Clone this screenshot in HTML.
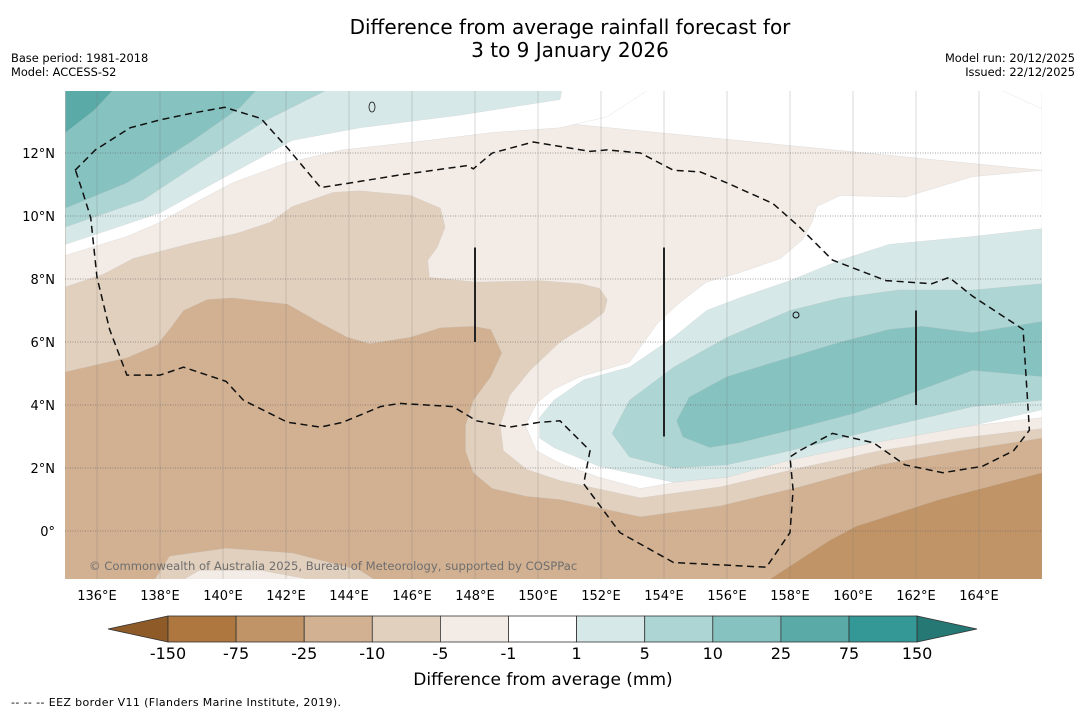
<!DOCTYPE html>
<html><head><meta charset="utf-8">
<style>
html,body{margin:0;padding:0;background:#fff;}
body{width:1085px;height:713px;overflow:hidden;font-family:"DejaVu Sans","Liberation Sans",sans-serif;}
svg text{font-family:"DejaVu Sans","Liberation Sans",sans-serif;}
</style></head>
<body>
<svg id="chart" width="1085" height="713" viewBox="0 0 1085 713" xmlns="http://www.w3.org/2000/svg">
<defs><clipPath id="mapclip"><rect x="65" y="91" width="977" height="488"/></clipPath></defs>
<text x="570" y="34" font-size="20" text-anchor="middle">Difference from average rainfall forecast for</text>
<text x="570" y="57" font-size="20" text-anchor="middle">3 to 9 January 2026</text>
<text x="11" y="62" font-size="11.4">Base period: 1981-2018</text>
<text x="11" y="76" font-size="11.4">Model: ACCESS-S2</text>
<text x="1075" y="62" font-size="11.4" text-anchor="end">Model run: 20/12/2025</text>
<text x="1075" y="76" font-size="11.4" text-anchor="end">Issued: 22/12/2025</text>
<g id="map" clip-path="url(#mapclip)"></g>
<g id="grid"></g>
<g id="overlay" clip-path="url(#mapclip)"></g>
<text x="89" y="570" font-size="11.6" fill="#6e6e6e">© Commonwealth of Australia 2025, Bureau of Meteorology, supported by COSPPac</text>
<g id="colorbar"></g>
<text x="543" y="685" font-size="17" text-anchor="middle">Difference from average (mm)</text>
<text x="11" y="706" font-size="11" textLength="330">--  --  -- EEZ border V11 (Flanders Marine Institute, 2019).</text>
</svg>
<script>
const lonTicks=[136,138,140,142,144,146,148,150,152,154,156,158,160,162,164];
const latTicks=[0,2,4,6,8,10,12];
const levelLabels=["-150","-75","-25","-10","-5","-1","1","5","10","25","75","150"];
const levelColors=["#ad773f","#c09467","#d2b192","#e2d0be","#f3ece6","#ffffff","#d6e9e8","#acd5d4","#86c2c0","#5aaaa8","#339896"];
const bgColor="#d2b192";
const contourM10=[[135,5.05],[136.95,5.5],[137.9,5.9],[138.3,6.4],[138.75,7.0],[139.5,7.35],[140.3,7.4],[142.05,7.2],[143.1,6.6],[143.95,6.15],[144.65,5.95],[145.95,6.15],[146.9,6.45],[147.95,6.5],[148.5,6.4],[148.85,5.65],[148.5,4.9],[147.95,4.15],[147.7,3.35],[147.7,2.55],[147.95,1.85],[148.55,1.35],[149.65,1.1],[150.7,1.0],[153.25,0.45],[155.8,0.8],[158.3,1.4],[160.85,2.1],[163.4,2.55],[166,2.95]];
const contourM5=[[135,7.75],[136.2,8.15],[137.15,8.65],[139.05,9.15],[140.45,9.45],[141.5,9.8],[142.2,10.3],[143.5,10.75],[144.35,10.8],[145.95,10.65],[146.9,10.25],[147.05,9.65],[146.8,9.0],[146.5,8.6],[146.55,8.05],[148.05,7.9],[150.05,7.95],[151.35,7.85],[151.95,7.7],[152.2,7.35],[152.1,6.95],[151.65,6.6],[150.7,6.0],[149.75,5.1],[149.1,4.3],[148.8,3.35],[148.9,2.55],[149.65,1.95],[150.7,1.6],[153.25,1.05],[155.8,1.4],[158.3,2.0],[160.85,2.55],[163.4,2.95],[166,3.25]];
const whiteBandLower=[[135,8.75],[136.95,9.35],[138.0,9.8],[139.25,10.5],[140.3,11.05],[142.05,11.7],[143.8,12.1],[146.5,12.4],[148.55,12.65],[150.7,12.8],[152.2,13.15],[153.8,14.2]];
const whiteBandUpper=[[150.8,14.2],[150.7,13.7],[147.5,13.2],[144.35,12.8],[142.2,12.4],[139.9,11.15],[138.0,10.1],[135,9.1]];
const tealP5West=[[135,9.65],[137.45,10.5],[139.5,11.85],[141.4,13.05],[143.7,14.2]];
const tealP10West=[[135,10.25],[136.95,11.05],[139.05,12.4],[140.55,13.45],[141.25,14.2]];
const tealP25West=[[135,12.65],[135.9,13.35],[136.7,14.2]];
const whiteEast=[[166,11.45],[163.8,11.25],[161.65,10.6],[159.6,10.65],[158.85,10.3],[158.7,9.8],[158.4,9.25],[157.7,8.65],[156.4,8.2],[155.35,7.9],[154.5,7.25],[153.8,6.6],[152.9,5.35],[151.35,4.9],[150.5,4.5],[149.95,4.05],[149.6,3.35],[149.95,2.55],[150.7,2.15],[151.95,1.7],[153.25,1.35],[155.8,1.8],[158.3,2.35],[160.85,2.9],[163.4,3.3],[166,3.6]];
const whiteNE=[[164.4,14.2],[164.7,14.0],[166,13.4],[166,14.2]];
const tealP1East=[[166,9.6],[163.8,9.35],[161.15,9.1],[159.6,8.6],[158.0,7.95],[156.4,7.4],[155.35,7.0],[154.3,6.15],[152.9,5.2],[151.45,4.8],[150.5,4.15],[150.05,3.6],[150.05,2.95],[150.5,2.65],[151.95,2.05],[154.3,1.55],[156.0,1.7],[158.0,2.25],[160.65,2.8],[163.8,3.35],[166,3.85]];
const tealP5East=[[166,7.85],[163.8,7.65],[161.45,7.65],[159.6,7.4],[158.0,7.0],[156.0,6.15],[154.3,5.2],[152.9,4.15],[152.35,3.1],[152.9,2.35],[154.3,2.0],[156.0,2.1],[158.0,2.55],[160.65,3.2],[163.8,3.95],[166,4.15]];
const tealP10East=[[166,6.65],[163.8,6.3],[162.2,6.5],[161.15,6.4],[159.6,6.0],[157.45,5.35],[156.0,4.9],[154.8,4.25],[154.4,3.5],[154.6,2.98],[155.45,2.65],[156.4,2.8],[158.0,3.2],[160.1,3.75],[162.2,4.5],[163.8,5.1],[166,4.9]];
const brownM75=[[157.25,-1.6],[159.25,-0.3],[160.1,0.15],[162.75,1.0],[166,1.85],[166,-1.6]];
const patchM10South=[[137.8,-1.6],[138.3,-0.8],[140.1,-0.55],[142.2,-0.7],[144.35,-1.25],[144.9,-1.6]];
const patchM5South=[[138.65,-1.6],[139.25,-1.25],[141.2,-1.25],[143.1,-1.6]];
const eezBorder=[[135.3,11.45],[135.95,12.1],[137.05,12.8],[138.0,13.05],[138.95,13.25],[140.05,13.45],[141.2,13.1],[142.1,12.1],[143.1,10.9],[144.05,11.05],[145.6,11.3],[147.75,11.6],[147.95,11.5],[148.55,12.0],[149.85,12.35],[151.65,12.05],[152.2,12.1],[153.25,12.0],[154.3,11.45],[155.15,11.4],[156.0,11.05],[157.45,10.4],[158.3,9.65],[159.35,8.6],[161.05,7.95],[162.5,7.85],[163.05,8.05],[163.8,7.45],[165.4,6.4],[165.6,3.2],[165.1,2.55],[164.1,2.05],[162.85,1.85],[161.65,2.1],[160.65,2.8],[159.35,3.1],[158.3,2.55],[158.0,2.35],[158.1,1.3],[158.0,-0.05],[157.25,-1.15],[154.3,-1.0],[152.6,-0.05],[151.45,1.5],[151.65,2.55],[150.7,3.5],[150.05,3.45],[149.1,3.3],[148.05,3.5],[147.3,3.95],[145.6,4.05],[145.0,3.95],[143.8,3.45],[143.1,3.3],[142.05,3.45],[140.65,4.15],[140.1,4.75],[138.75,5.2],[138.0,4.95],[136.95,4.95],[136.4,6.4],[136.0,8.05],[135.8,9.95],[135.55,10.75],[135.3,11.5]];
const boundaryLines=[[148,6,9],[154,3,9],[162,4,7]];

const NS="http://www.w3.org/2000/svg";
function xS(lon){return 65.5+(lon-135)*31.5;}
function yS(lat){return 531-lat*31.5;}
function mk(tag,attrs,parent){const e=document.createElementNS(NS,tag);for(const k in attrs)e.setAttribute(k,attrs[k]);parent.appendChild(e);return e;}
function pts(arr){return arr.map(p=>xS(p[0]).toFixed(1)+","+yS(p[1]).toFixed(1)).join(" ");}
const map=document.getElementById('map');
function poly(arr,fill,name,extra){
  const all=extra?arr.concat(extra):arr;
  const e=mk('polygon',{points:pts(all),fill:fill,stroke:"#bbb","stroke-width":"0.4","stroke-opacity":"0.5"},map);
  
  
}
const bg=mk('rect',{x:65,y:91,width:977,height:488,fill:bgColor},map);


const topCorners=[[166,14.5],[135,14.5]];
poly(contourM10,levelColors[3],'region-minus10-to-minus5',topCorners);
poly(contourM5,levelColors[4],'region-minus5-to-minus1',topCorners);
poly(whiteEast,levelColors[5],'region-near-average-east',topCorners);
poly(whiteNE,levelColors[5],'region-near-average-northeast');
poly(whiteBandLower,levelColors[5],'region-near-average-west',[[135,14.5]]);
poly(whiteBandUpper,levelColors[6],'region-1-to-5-west',[[135,14.5]]);
poly(tealP5West,levelColors[7],'region-5-to-10-west',[[135,14.5]]);
poly(tealP10West,levelColors[8],'region-10-to-25-west',[[135,14.5]]);
poly(tealP25West,levelColors[9],'region-25-to-75-west',[[135,14.5]]);
poly(tealP1East,levelColors[6],'region-1-to-5-east');
poly(tealP5East,levelColors[7],'region-5-to-10-east');
poly(tealP10East,levelColors[8],'region-10-to-25-east');
poly(brownM75,levelColors[1],'region-minus75-to-minus25');
poly(patchM10South,levelColors[3],'region-south-patch');
poly(patchM5South,levelColors[4],'region-south-patch-inner');

const grid=document.getElementById('grid');
lonTicks.forEach(lon=>{
  const l=mk('line',{x1:xS(lon),x2:xS(lon),y1:91,y2:579,stroke:"#777","stroke-width":"0.7","stroke-opacity":"0.4"},grid);
  
  
  const t=mk('text',{x:xS(lon),y:600,"font-size":13,"text-anchor":"middle"},grid);
  t.textContent=lon+"°E";
  
  
});
latTicks.forEach(lat=>{
  const l=mk('line',{x1:65,x2:1042,y1:yS(lat),y2:yS(lat),stroke:"#666","stroke-width":"0.8","stroke-dasharray":"1,1.5","stroke-opacity":"0.8"},grid);
  
  
  const t=mk('text',{x:55,y:yS(lat)+5,"font-size":13,"text-anchor":"end"},grid);
  t.textContent=lat===0?"0°":lat+"°N";
  
  
});

const ov=document.getElementById('overlay');
const eez=mk('polyline',{points:pts(eezBorder),fill:"none",stroke:"#111","stroke-width":"1.5","stroke-dasharray":"7,4.5"},ov);


boundaryLines.forEach(b=>{
  const l=mk('line',{x1:xS(b[0]),x2:xS(b[0]),y1:yS(b[2]),y2:yS(b[1]),stroke:"#222","stroke-width":"2"},ov);
  
  
});
const guam=mk('ellipse',{cx:372,cy:107,rx:3,ry:5,fill:"none",stroke:"#111","stroke-width":"0.8"},ov);


const isl=mk('ellipse',{cx:796,cy:315,rx:3,ry:3,fill:"none",stroke:"#111","stroke-width":"1"},ov);



const cb=document.getElementById('colorbar');
const cbX0=168,cbW=68.1,cbY=616,cbH=26;
const lt=mk('polygon',{points:`108,629 ${cbX0},${cbY} ${cbX0},${cbY+cbH}`,fill:"#8d5a28",stroke:"#333","stroke-width":"0.8"},cb);


levelColors.forEach((c,i)=>{
  const r=mk('rect',{x:cbX0+i*cbW,y:cbY,width:cbW,height:cbH,fill:c,stroke:"#333","stroke-width":"0.8"},cb);
  
  
});
const xEnd=cbX0+levelColors.length*cbW;
const rt=mk('polygon',{points:`${xEnd},${cbY} 977,629 ${xEnd},${cbY+cbH}`,fill:"#267874",stroke:"#333","stroke-width":"0.8"},cb);


levelLabels.forEach((s,i)=>{
  const t=mk('text',{x:cbX0+i*cbW,y:659,"font-size":16,"text-anchor":"middle"},cb);
  t.textContent=s;
  
  
});
</script>
</body></html>
